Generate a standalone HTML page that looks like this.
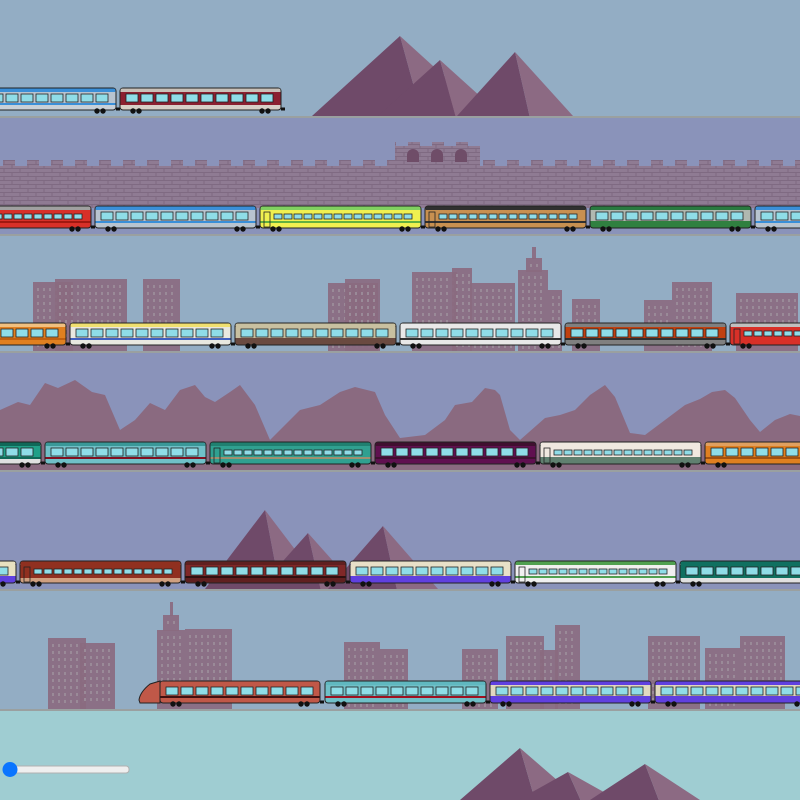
<!DOCTYPE html>
<html><head><meta charset="utf-8"><style>html,body{margin:0;padding:0;width:800px;height:800px;overflow:hidden}svg{display:block}</style></head>
<body>
<svg id="s" width="800" height="800" viewBox="0 0 800 800" xmlns="http://www.w3.org/2000/svg">
<defs>
<pattern id="brick" width="16" height="8" patternUnits="userSpaceOnUse">
<rect width="16" height="8" fill="#8f7b93"/>
<path d="M0 0.5H16M0 4.5H16M4 0V4M12 4V8" stroke="#7f6a82" stroke-width="1"/>
</pattern>
</defs>
<rect x="0" y="0" width="800" height="117" fill="#93adc4"/>
<rect x="0" y="117" width="800" height="118" fill="#8a93ba"/>
<rect x="0" y="235" width="800" height="117" fill="#93adc4"/>
<rect x="0" y="352" width="800" height="119" fill="#8a93ba"/>
<rect x="0" y="471" width="800" height="119" fill="#8a93ba"/>
<rect x="0" y="590" width="800" height="120" fill="#93adc4"/>
<rect x="0" y="710" width="800" height="90" fill="#9fcdd2"/>
<g id="bg"></g>
<g id="tr"></g>
<g>
<rect x="10" y="766" width="119" height="7" rx="3" fill="#efefef" stroke="#b0b0b0"/>
<circle cx="10" cy="769.5" r="7.5" fill="#0a75ff"/>
</g>
</svg>
<script>
var bg=document.getElementById('bg'),tr=document.getElementById('tr');
var B='',T='';
function mtn(px,py,base,hw){ // two-tone triangle
 B+='<polygon points="'+(px-hw)+','+base+' '+px+','+py+' '+(px+hw*0.25)+','+base+'" fill="#6f4a69"/>';
 B+='<polygon points="'+px+','+py+' '+(px+hw)+','+base+' '+(px+hw*0.25)+','+base+'" fill="#8c6a83"/>';
}
mtn(400,36,116,88);mtn(440,60,116,62);mtn(515,52,116,58);
mtn(265,510,589,60);mtn(308,533,589,50);mtn(383,526,589,55);
mtn(520,748,800,60);mtn(568,772,800,50);mtn(645,764,800,55);
// wall
var w='M0 166';for(var x=0;x<800;x+=24){w+=' H'+x+' V160 H'+(x+12)+' V166';}
w+=' H395 V142 H480 V166 H800 V207 H0Z';
B+='<rect x="0" y="166" width="800" height="42" fill="url(#brick)"/>';
for(var x=0;x<800;x+=24)B+='<rect x="'+(x+3)+'" y="160" width="12" height="7" fill="url(#brick)"/>';
B+='<rect x="395" y="142" width="85" height="25" fill="url(#brick)"/>';
for(var i=0;i<4;i++)B+='<rect x="'+(396+i*24)+'" y="142" width="12" height="4" fill="#8a93ba"/>';
[413,437,461].forEach(function(c){B+='<path d="M'+(c-6)+' 162V155a6 6 0 0 1 12 0V162Z" fill="#6f4d68"/>';});
// buildings
function bl(a){a.forEach(function(r){B+='<rect x="'+r[0]+'" y="'+r[1]+'" width="'+r[2]+'" height="'+r[3]+'" fill="#8a6a80" opacity="0.92"/>';
 for(var yy=r[1]+6;yy<r[1]+r[3]-4;yy+=7)for(var xx=r[0]+4;xx<r[0]+r[2]-3;xx+=6)B+='<rect x="'+xx+'" y="'+yy+'" width="2" height="3" fill="#9a8a98"/>';});}
bl([[33,282,40,70],[55,279,72,72],[143,279,37,72],[328,283,50,68],[345,279,35,72],[412,272,45,79],[452,268,20,83],[470,283,45,68],[518,270,30,81],[526,258,16,14],[532,247,4,12],[548,290,14,61],[572,299,28,52],[644,300,28,51],[672,282,40,69],[736,293,62,58]]);
bl([[48,638,38,71],[80,643,35,66],[157,630,28,79],[163,615,16,16],[170,602,3,14],[185,629,47,80],[344,642,36,67],[380,649,28,60],[462,649,36,60],[506,636,38,73],[540,650,18,59],[555,625,25,84],[648,636,52,73],[705,648,35,61],[740,636,45,73]]);
// ridge row4
B+='<path d="M0 410 L18 402 L30 405 L45 383 L58 388 L75 380 L92 392 L105 395 L120 430 L135 420 L150 403 L165 410 L180 390 L195 385 L205 397 L215 402 L230 392 L240 385 L255 405 L270 440 L290 420 L300 410 L320 405 L340 392 L355 387 L375 392 L385 415 L400 438 L425 435 L445 420 L455 405 L472 402 L485 388 L495 390 L500 395 L510 430 L520 440 L545 418 L560 415 L575 410 L590 395 L605 385 L615 397 L630 433 L645 435 L665 420 L685 405 L700 399 L712 392 L725 390 L735 398 L750 420 L760 432 L775 420 L790 414 L800 416 V471 H0Z" fill="#8a6a80"/>';
bg.innerHTML=B;
function car(x,g,c,w){w=w||161;var t=g-28,h=22;
 T+='<rect x="'+x+'" y="'+t+'" width="'+w+'" height="'+h+'" rx="3" fill="'+c[2]+'" stroke="#222" stroke-width="1"/>';
 T+='<rect x="'+(x+0.5)+'" y="'+(t+0.5)+'" width="'+(w-1)+'" height="4" rx="2" fill="'+c[0]+'"/>';
 T+='<rect x="'+(x+0.5)+'" y="'+(t+4)+'" width="'+(w-1)+'" height="11" fill="'+c[1]+'"/>';
 T+='<rect x="'+(x+0.5)+'" y="'+(t+15)+'" width="'+(w-1)+'" height="2" fill="'+c[3]+'"/>';
 if(c[4]=='m'){for(var xx=x+6;xx<x+w-14;xx+=15)T+='<rect x="'+xx+'" y="'+(t+6)+'" width="12" height="8" fill="#8fdde8" stroke="#222" stroke-width="0.8"/>';}
 else{for(var xx=x+14;xx<x+w-12;xx+=10)T+='<rect x="'+xx+'" y="'+(t+8)+'" width="8" height="5" fill="#8fdde8" stroke="#222" stroke-width="0.8"/>';
  T+='<rect x="'+(x+4)+'" y="'+(t+6)+'" width="6" height="15" fill="none" stroke="#222" stroke-width="0.8"/>';}
 T+='<line x1="'+(x+w)+'" y1="'+(g-7)+'" x2="'+(x+w+4)+'" y2="'+(g-7)+'" stroke="#111" stroke-width="3"/>';
 [x+13,x+19,x+w-19,x+w-13].forEach(function(cx){T+='<circle cx="'+cx+'" cy="'+(g-5)+'" r="2.7" fill="#111"/>';});
}
var rows=[
[116,[[-45,['#3a8fd8','#b8c4d0','#c8d0d8','#3a8fd8','m']],[120,['#c8c0b8','#8b2030','#d8d0c8','#8b2030','m']]]],
[234,[[-70,['#a0a0a0','#d83028','#d83028','#a01810','s']],[95,['#3a8fd8','#b8c4d0','#b8c4d0','#3a8fd8','m']],[260,['#80d060','#f0f050','#f0f050','#60b040','s']],[425,['#303030','#c89050','#c89050','#303030','s']],[590,['#2a7a40','#b0b8b0','#308040','#308040','m']],[755,['#3a8fd8','#b8c4d0','#b8c4d0','#3a8fd8','m']]]],
[351,[[-95,['#f0c080','#e08020','#e08020','#c06010','m']],[70,['#f0e070','#e8e8e0','#e8e8e0','#4060c0','m']],[235,['#c8c0a0','#c8c0a0','#6a4a40','#6a4a40','m']],[400,['#e8e8e8','#e8e8e8','#e8e8e8','#303030','m']],[565,['#808080','#c04010','#808080','#303030','m']],[730,['#c0c0c0','#d83028','#d83028','#d83028','s']]]],
[470,[[-120,['#106858','#20a088','#e0e0e0','#106858','m']],[45,['#3a9898','#70c0c8','#70c0c8','#801020','m']],[210,['#208070','#30a090','#30a090','#a09070','s']],[375,['#401030','#601050','#601050','#401030','m']],[540,['#f0e8e0','#f0e8e0','#608070','#608070','s']],[705,['#e0a060','#e08020','#e08020','#a05010','m']]]],
[589,[[-145,['#e8e0c0','#e8e0c0','#6040e0','#6040e0','m']],[20,['#903020','#903020','#d0a080','#903020','s']],[185,['#602020','#802828','#602020','#301010','m']],[350,['#e8e0c8','#e8e0c8','#6040e0','#6040e0','m']],[515,['#50a050','#f0f0f0','#f0f0f0','#50a050','s']],[680,['#107060','#107060','#e0e0e0','#107060','m']]]],
[709,[[160,['#c05848','#c05848','#c05848','#401010','m'],160],[325,['#60b8c0','#70c0c8','#70c0c8','#a01020','m']],[490,['#6040e0','#e0d8c0','#6040e0','#6040e0','m']],[655,['#6040e0','#e0d8c0','#6040e0','#6040e0','m']]]]
];
rows.forEach(function(r){var g=r[0];
 T+='<rect x="0" y="'+(g)+'" width="800" height="2" fill="#9aa0a0"/>';
 r[1].forEach(function(c){car(c[0],g,c[1],c[2]);});});
// HSR nose
T+='<path d="M160 681 L150 684 Q140 692 139 700 L140 703 L160 703Z" fill="#c05848" stroke="#222"/>';
tr.innerHTML=T;
</script>
</body></html>
